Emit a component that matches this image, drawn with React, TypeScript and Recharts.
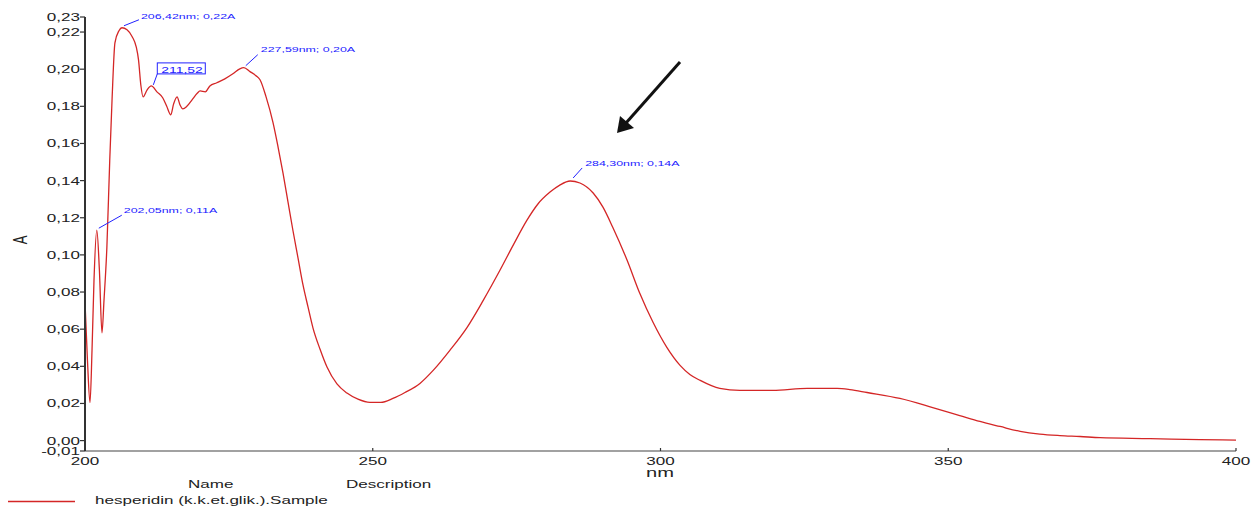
import { LineChart, Line, XAxis, YAxis, ReferenceDot } from 'recharts'

const FONT = '"Liberation Sans", Arial, sans-serif'
const STRETCH = 1.55

// spectrum
const wavelengths = [
  200.0, 200.43, 200.87, 201.22, 201.56, 202.05, 202.5, 202.95, 203.3, 203.8,
  204.3, 204.7, 205.2, 205.9, 206.42, 207.3, 208.2, 208.9, 209.3, 209.7,
  210.1, 210.8, 211.52, 212.5, 213.5, 214.2, 214.9, 215.4, 216.0, 216.5,
  217.0, 217.7, 218.6, 219.5, 220.0, 220.9, 221.7, 222.9, 224.3, 225.7,
  226.9, 227.59, 228.67, 229.71, 230.41, 231.45, 232.67, 233.54, 234.4, 235.27,
  236.14, 237.01, 237.88, 238.75, 239.62, 240.83, 242.05, 243.78, 245.52, 247.43,
  249.5, 251.4, 253.5, 255.6, 258.2, 260.5, 263.4, 266.4, 269.2, 272.1,
  274.5, 276.8, 278.7, 280.8, 282.5, 284.3, 286.0, 288.3, 290.0, 291.7,
  294.2, 296.4, 298.7, 301.1, 303.4, 305.1, 306.9, 310.3, 313.8, 319.5,
  325.5, 330.7, 332.9, 335.9, 341.6, 347.3, 352.0, 355.5, 359.0, 362.5,
  365.9, 369.4, 372.9, 376.4, 385.1, 393.7, 400.0,
]
const absorbance = [
  0.0745, 0.043, 0.0205, 0.0486, 0.086, 0.1133, 0.092, 0.058, 0.0755, 0.104,
  0.151, 0.1835, 0.2142, 0.2207, 0.2223, 0.2212, 0.2175, 0.212, 0.205, 0.1915,
  0.1851, 0.1889, 0.191, 0.1878, 0.1846, 0.18, 0.1754, 0.1813, 0.1851, 0.1808,
  0.1786, 0.18, 0.1835, 0.187, 0.1883, 0.1878, 0.191, 0.1927, 0.1948, 0.1975,
  0.2002, 0.2008, 0.1987, 0.1965, 0.1943, 0.1852, 0.1712, 0.1582, 0.1442, 0.1286,
  0.113, 0.0984, 0.0838, 0.072, 0.0606, 0.0493, 0.0396, 0.0305, 0.0256, 0.0223,
  0.0206, 0.0206, 0.0227, 0.0259, 0.0308, 0.0378, 0.0486, 0.061, 0.0755, 0.0917,
  0.1058, 0.1187, 0.1274, 0.1338, 0.1376, 0.1398, 0.1387, 0.1333, 0.1257, 0.1149,
  0.0971, 0.0793, 0.0637, 0.0502, 0.0405, 0.0356, 0.0324, 0.0281, 0.027, 0.027,
  0.0281, 0.0281, 0.0275, 0.0259, 0.0227, 0.0178, 0.0135, 0.0103, 0.0076, 0.005,
  0.0035, 0.0027, 0.0022, 0.0016, 0.0011, 0.0005, 0.0003,
]

const xTicks = [200, 250, 300, 350, 400]
const yTicks = [-0.0056, 0, 0.02, 0.04, 0.06, 0.08, 0.1, 0.12, 0.14, 0.16, 0.18, 0.2, 0.22, 0.2281]

// marked peaks
const peakNm = [202.05, 206.42, 211.52, 227.59, 284.3]
const peakA = [0.1133, 0.2223, 0.191, 0.2008, 0.1398]
const peakLabels = ['202,05nm; 0,11A', '206,42nm; 0,22A', '211,52', '227,59nm; 0,20A', '284,30nm; 0,14A']

// leader line and text offsets from the peak, in px
const calloutOffsets = [
  { x1: 2, y1: -2, x2: 25, y2: -15, tx: 27, ty: -17, boxed: false },
  { x1: 2, y1: -2, x2: 17, y2: -8, tx: 19, ty: -9, boxed: false },
  { x1: 2, y1: -1, x2: 6, y2: -12, tx: 10, ty: -14, boxed: true },
  { x1: 2, y1: -2, x2: 14, y2: -13, tx: 17, ty: -16, boxed: false },
  { x1: 3, y1: -3, x2: 12, y2: -13, tx: 15, ty: -15, boxed: false },
]

const spectrum = wavelengths.map((nm, i) => ({ nm, a: absorbance[i] }))

const fmt = (v: number) => v.toFixed(2).replace('.', ',')

function Stretch({ x, y, size, anchor = 'start', fill = '#222', children }: any) {
  return (
    <text
      transform={`translate(${x},${y}) scale(${STRETCH},1)`}
      fontSize={size}
      textAnchor={anchor}
      fill={fill}
      fontFamily={FONT}
    >
      {children}
    </text>
  )
}

function YTick({ x, y, payload }: any) {
  return (
    <g>
      <line x1={x - 5} x2={x} y1={y} y2={y} stroke="#333" strokeWidth={1.2} />
      <Stretch x={x - 5} y={y + 4} size={11} anchor="end">
        {fmt(payload.value)}
      </Stretch>
    </g>
  )
}

function XTick({ x, y, payload }: any) {
  return (
    <g>
      <line x1={x} x2={x} y1={y} y2={y - 3} stroke="#333" strokeWidth={1.2} />
      <Stretch x={x} y={y + 14} size={11} anchor="middle">
        {payload.value}
      </Stretch>
    </g>
  )
}

function Callout({ cx, cy, i }: any) {
  const o = calloutOffsets[i]
  const blue = '#2222ff'
  return (
    <g>
      <line x1={cx + o.x1} y1={cy + o.y1} x2={cx + o.x2} y2={cy + o.y2} stroke={blue} strokeWidth={1} />
      {o.boxed ? (
        <>
          <rect x={cx + o.x2} y={cy - 23} width={48} height={11} fill="#fff" stroke={blue} strokeWidth={1} />
          <Stretch x={cx + o.tx} y={cy + o.ty + 1} size={9} fill={blue}>
            {peakLabels[i]}
          </Stretch>
        </>
      ) : (
        <Stretch x={cx + o.tx} y={cy + o.ty} size={8} fill={blue}>
          {peakLabels[i]}
        </Stretch>
      )}
    </g>
  )
}

export default function App() {
  return (
    <div style={{ position: 'absolute', left: 0, top: 0, width: 1253, height: 510, background: '#fff' }}>
      <LineChart width={1253} height={510} data={spectrum} margin={{ top: 17, right: 17, bottom: 0, left: 0 }}>
        <XAxis
          dataKey="nm"
          type="number"
          domain={[200, 400]}
          ticks={xTicks}
          interval={0}
          height={59}
          tickSize={0}
          tickMargin={0}
          tickLine={false}
          axisLine={{ stroke: '#444', strokeWidth: 1.2 }}
          tick={<XTick />}
          allowDataOverflow
        />
        <YAxis
          type="number"
          domain={[-0.0056, 0.2281]}
          ticks={yTicks}
          interval={0}
          width={85}
          tickSize={0}
          tickMargin={0}
          tickLine={false}
          axisLine={{ stroke: '#333', strokeWidth: 2 }}
          tick={<YTick />}
          allowDataOverflow
        />
        <Line
          type="monotone"
          dataKey="a"
          stroke="#d42626"
          strokeWidth={1.3}
          dot={false}
          isAnimationActive={false}
        />
        {peakNm.map((nm, i) => (
          <ReferenceDot
            key={nm}
            x={nm}
            y={peakA[i]}
            r={0}
            shape={(p: any) => <Callout cx={p.cx} cy={p.cy} i={i} />}
          />
        ))}
      </LineChart>
      <svg
        width={1253}
        height={510}
        style={{ position: 'absolute', left: 0, top: 0, pointerEvents: 'none' }}
      >
        <text
          transform={`translate(27,240) scale(${STRETCH},1) rotate(-90)`}
          fontSize={13}
          textAnchor="middle"
          fill="#222"
          fontFamily={FONT}
        >
          A
        </text>
        <Stretch x={660} y={477} size={13} anchor="middle">
          nm
        </Stretch>
        <Stretch x={188} y={488} size={11}>
          Name
        </Stretch>
        <Stretch x={346} y={488} size={11}>
          Description
        </Stretch>
        <line x1={8} x2={75} y1={501.5} y2={501.5} stroke="#d42626" strokeWidth={1.3} />
        <Stretch x={95} y={504} size={11}>
          hesperidin (k.k.et.glik.).Sample
        </Stretch>
        <line x1={680} y1={62} x2={626} y2={123} stroke="#111" strokeWidth={3} />
        <polygon points="617,133 620,116 634,128" fill="#111" />
      </svg>
    </div>
  )
}
